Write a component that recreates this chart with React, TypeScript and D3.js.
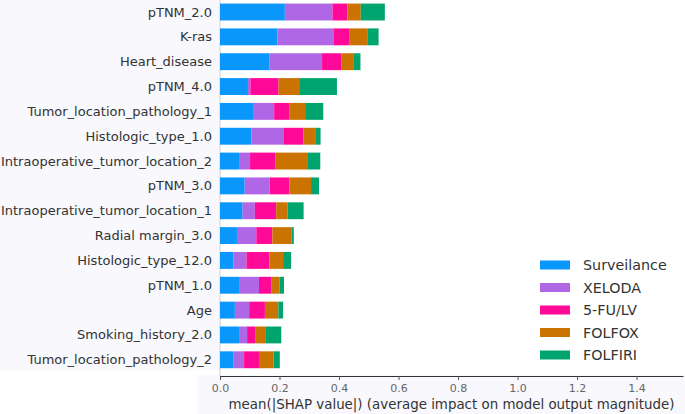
import { useEffect, useRef } from "react";
import * as d3 from "d3";

const features = [
  "pTNM_2.0",
  "K-ras",
  "Heart_disease",
  "pTNM_4.0",
  "Tumor_location_pathology_1",
  "Histologic_type_1.0",
  "Intraoperative_tumor_location_2",
  "pTNM_3.0",
  "Intraoperative_tumor_location_1",
  "Radial margin_3.0",
  "Histologic_type_12.0",
  "pTNM_1.0",
  "Age",
  "Smoking_history_2.0",
  "Tumor_location_pathology_2",
];

const classNames = ["Surveilance", "XELODA", "5-FU/LV", "FOLFOX", "FOLFIRI"];
const classColors = ["#0a97fb", "#b067e6", "#ff0a98", "#cb7300", "#00a46f"];

// mean |SHAP| per feature, one array per class
const surveilance = [0.218, 0.193, 0.167, 0.094, 0.111, 0.106, 0.064, 0.083, 0.076, 0.057, 0.045, 0.064, 0.05, 0.064, 0.046];
const xeloda = [0.16, 0.188, 0.176, 0.008, 0.071, 0.109, 0.037, 0.084, 0.041, 0.065, 0.044, 0.067, 0.048, 0.027, 0.035];
const fuLv = [0.05, 0.055, 0.066, 0.095, 0.052, 0.065, 0.086, 0.066, 0.072, 0.054, 0.077, 0.041, 0.053, 0.029, 0.05];
const folfox = [0.045, 0.061, 0.041, 0.069, 0.055, 0.04, 0.106, 0.073, 0.038, 0.065, 0.046, 0.028, 0.045, 0.032, 0.049];
const folfiri = [0.081, 0.036, 0.022, 0.127, 0.058, 0.018, 0.044, 0.027, 0.054, 0.007, 0.027, 0.015, 0.016, 0.054, 0.021];

const xTicks = [0, 0.2, 0.4, 0.6, 0.8, 1.0, 1.2, 1.4];

const W = 685;
const H = 414;

const App = () => {
  const svgRef = useRef<SVGSVGElement>(null);

  useEffect(() => {
    const svg = d3.select(svgRef.current);
    svg.selectAll("*").remove();

    const series = [surveilance, xeloda, fuLv, folfox, folfiri];
    const rows = features.map((f, i) => {
      const r: any = { feature: f };
      classNames.forEach((c, k) => (r[c] = series[k][i]));
      return r;
    });
    const stacked = d3.stack().keys(classNames)(rows);

    const x = d3.scaleLinear().domain([0, 1.556]).range([220, 683]);
    const y = d3.scaleBand().domain(features).range([-0.4, 372.2]).paddingInner(0.32).paddingOuter(0.16);
    const axisY = 376;

    // faint tinted background panels (label column and axis strip)
    svg.append("rect").attr("x", 0).attr("y", 0).attr("width", 219).attr("height", 370).attr("fill", "#f8f8fd");
    svg.append("rect").attr("x", 197).attr("y", 375).attr("width", W - 197).attr("height", H - 375).attr("fill", "#f8f8fd");

    // zero line
    svg.append("line")
      .attr("x1", x(0)).attr("x2", x(0))
      .attr("y1", 0).attr("y2", axisY)
      .attr("stroke", "#cccccc").attr("stroke-width", 1);

    // stacked bars
    svg.append("g")
      .selectAll("g")
      .data(stacked)
      .enter()
      .append("g")
      .attr("fill", (d, i) => classColors[i])
      .selectAll("rect")
      .data(d => d)
      .enter()
      .append("rect")
      .attr("x", d => x(d[0]))
      .attr("width", d => x(d[1]) - x(d[0]))
      .attr("y", d => y((d.data as any).feature)!)
      .attr("height", y.bandwidth());

    // feature labels
    svg.append("g")
      .selectAll("text")
      .data(features)
      .enter()
      .append("text")
      .attr("x", 212)
      .attr("y", d => y(d)! + y.bandwidth() / 2)
      .attr("dy", "0.35em")
      .attr("text-anchor", "end")
      .attr("font-family", "DejaVu Sans")
      .attr("font-size", 13)
      .attr("fill", "#333333")
      .text(d => d);

    // x axis
    const xAxis = svg.append("g")
      .attr("transform", `translate(0,${axisY})`)
      .call(d3.axisBottom(x).tickValues(xTicks).tickFormat(d3.format(".1f")).tickSize(4).tickSizeOuter(0));
    xAxis.select(".domain").attr("stroke", "#333333").attr("stroke-width", 1.2);
    xAxis.selectAll(".tick line").attr("stroke", "#555555");
    xAxis.selectAll(".tick text")
      .attr("font-family", "DejaVu Sans")
      .attr("font-size", 11)
      .attr("fill", "#666666")
      .attr("dy", "0.8em");

    svg.append("text")
      .attr("x", (x(0) + 683) / 2)
      .attr("y", 408.5)
      .attr("text-anchor", "middle")
      .attr("font-family", "DejaVu Sans")
      .attr("font-size", 13.4)
      .attr("fill", "#333333")
      .text("mean(|SHAP value|) (average impact on model output magnitude)");

    // legend
    const legend = svg.append("g")
      .selectAll("g")
      .data(classNames)
      .enter()
      .append("g")
      .attr("transform", (d, i) => `translate(540,${265 + i * 22.5})`);
    legend.append("rect")
      .attr("x", 0).attr("y", -4.5)
      .attr("width", 30).attr("height", 9)
      .attr("fill", (d, i) => classColors[i]);
    legend.append("text")
      .attr("x", 43)
      .attr("dy", "0.36em")
      .attr("font-family", "DejaVu Sans")
      .attr("font-size", 14.3)
      .attr("fill", "#333333")
      .text(d => d);
  }, []);

  return (
    <div style={{ position: "fixed", left: 0, top: 0 }}>
      <svg ref={svgRef} width={W} height={H} style={{ display: "block", background: "#ffffff" }}></svg>
    </div>
  );
};

export default App;
